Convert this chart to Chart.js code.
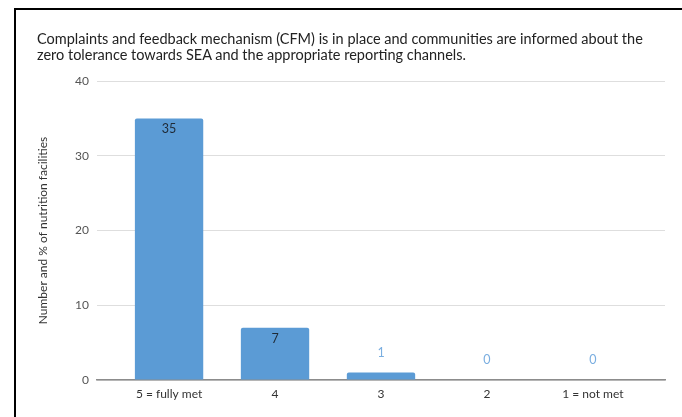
<!DOCTYPE html>
<html lang="en">
  <head>
    <meta charset="UTF-8" />
    <script src="https://cdnjs.cloudflare.com/ajax/libs/Chart.js/4.4.1/chart.umd.min.js"></script>
    <title>CFM in place</title>
    <style>
      html, body { margin: 0; padding: 0; background: #fff; }
      body { width: 682px; height: 417px; position: relative; overflow: hidden; }
      .frame {
        position: absolute; left: 14px; top: 8px; width: 700px; height: 440px;
        border-top: 2px solid #000; border-left: 2px solid #000;
      }
      .heading {
        position: absolute; left: 37px; top: 31px; white-space: nowrap;
        font-family: Lato, sans-serif; font-size: 14.5px; line-height: 15.5px; color: #222;
      }
      #wrap { position: absolute; left: 0; top: 0; width: 682px; height: 417px; }
    </style>
  </head>
  <body>
    <div id="wrap"><canvas id="myChart" width="682" height="417"></canvas></div>
    <div class="frame"></div>
    <div class="heading">
      Complaints and feedback mechanism (CFM) is in place and communities are informed about the<br />
      zero tolerance towards SEA and the appropriate reporting channels.
    </div>

    <script>
      const categories = ["5 = fully met", "4", "3", "2", "1 = not met"];
      const facilities = [35, 7, 1, 0, 0];
      const yTicks = [0, 10, 20, 30, 40];

      const barBlue = "#5b9bd5";

      // value labels: inside the bar when there is room, otherwise above it in light blue
      const valueLabels = {
        id: "valueLabels",
        afterDatasetsDraw(chart) {
          const ctx = chart.ctx;
          const meta = chart.getDatasetMeta(0);
          ctx.save();
          ctx.font = "12.5px Lato, sans-serif";
          ctx.textAlign = "center";
          ctx.textBaseline = "middle";
          meta.data.forEach((bar, i) => {
            const v = facilities[i];
            const h = bar.base - bar.y;
            if (h > 20) {
              ctx.fillStyle = "#1f2a36";
              ctx.fillText(String(v), bar.x, bar.y + 11);
            } else {
              ctx.fillStyle = "#7aaee0";
              ctx.fillText(String(v), bar.x, bar.y - 20);
            }
          });
          ctx.restore();
        }
      };

      var myChart = document.getElementById("myChart").getContext("2d");
      var chart = new Chart(myChart, {
        type: "bar",
        data: {
          datasets: [
            {
              data: facilities.map((v, i) => ({ x: i, y: v })),
              backgroundColor: barBlue,
              borderRadius: 2,
              borderSkipped: "bottom",
              categoryPercentage: 1,
              barPercentage: 0.645,
            },
          ],
        },
        options: {
          responsive: false,
          animation: false,
          layout: { padding: { top: 81, right: 17, bottom: 0, left: 0 } },
          plugins: { legend: { display: false }, tooltip: { enabled: false } },
          scales: {
            x: {
              type: "linear",
              offset: false,
              min: -0.68,
              max: categories.length - 1 + 0.68,
              afterBuildTicks: (s) => { s.ticks = categories.map((_, i) => ({ value: i })); },
              afterFit: (s) => { s.height = 37; },
              grid: { display: false, drawTicks: false },
              border: { display: true, color: "#8c8c8c", width: 1.5 },
              ticks: {
                padding: 7,
                maxRotation: 0,
                autoSkip: false,
                color: "#333",
                font: { family: "Lato, sans-serif", size: 12 },
                callback: (v) => categories[v],
              },
            },
            y: {
              min: 0,
              max: 40,
              afterBuildTicks: (s) => { s.ticks = yTicks.map((v) => ({ value: v })); },
              afterFit: (s) => { s.width = 97; },
              grid: { color: "#dedede", lineWidth: 1, drawTicks: false },
              border: { display: false },
              ticks: {
                padding: 8,
                color: "#555",
                font: { family: "Lato, sans-serif", size: 12 },
              },
              title: {
                display: true,
                text: "Number and % of nutrition facilities",
                color: "#333",
                font: { family: "Lato, sans-serif", size: 12 },
                padding: { top: 36, bottom: 0 },
              },
            },
          },
        },
        plugins: [valueLabels],
      });
    </script>
  </body>
</html>
